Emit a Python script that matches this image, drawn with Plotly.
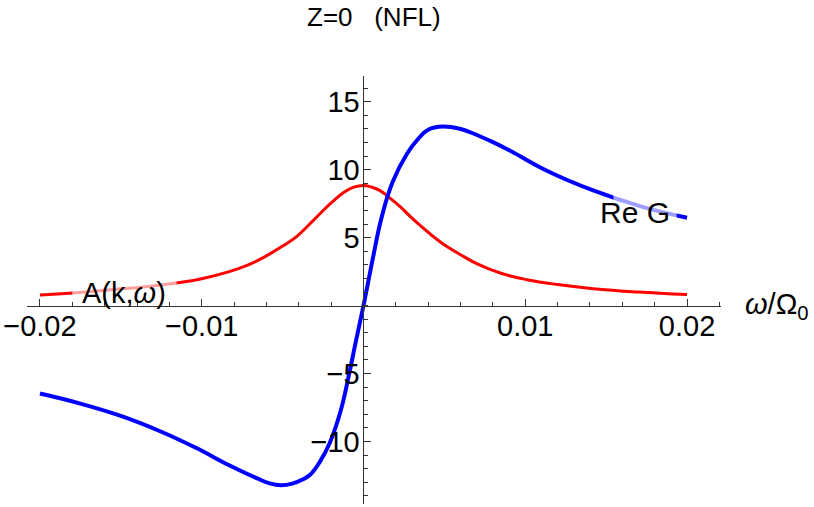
import plotly.graph_objects as go

# Spectral function A(k, omega) (red)
a_omega = [-0.0200, -0.0180, -0.0155, -0.0130, -0.0116, -0.0100, -0.0083, -0.0072,
           -0.0062, -0.0050, -0.0041, -0.0031, -0.0021, -0.0012, -0.0006, 0.0,
           0.0005, 0.0010, 0.0016, 0.0023, 0.0029, 0.0035, 0.0042, 0.0049, 0.0060,
           0.0070, 0.0085, 0.0101, 0.0120, 0.0142, 0.0170, 0.0200]
a_vals = [0.78, 0.93, 1.18, 1.45, 1.66, 1.98, 2.50, 2.96,
          3.53, 4.38, 5.12, 6.27, 7.45, 8.35, 8.72, 8.85,
          8.72, 8.48, 7.95, 7.25, 6.55, 5.90, 5.20, 4.56, 3.75,
          3.09, 2.38, 1.91, 1.55, 1.25, 1.00, 0.81]

# Re G (blue)
g_omega = [-0.0200, -0.0175, -0.0150, -0.0125, -0.0103, -0.0083, -0.0066, -0.0058,
           -0.0051, -0.0044, -0.0038, -0.0033, -0.0027, -0.0021, -0.0014, -0.0009,
           -0.0005, 0.0, 0.0003, 0.0006, 0.0011, 0.0018, 0.0027, 0.0034, 0.0040,
           0.0049, 0.0060, 0.0066, 0.0080, 0.0091, 0.0113, 0.0142, 0.0173, 0.0200]
g_vals = [-6.47, -7.21, -8.12, -9.28, -10.50, -11.75, -12.70, -13.08,
          -13.22, -13.10, -12.82, -12.45, -11.50, -10.15, -7.70, -5.10,
          -2.80, 0.0, 1.80, 3.60, 6.40, 9.10, 11.20, 12.30, 12.95,
          13.18, 13.00, 12.76, 12.03, 11.38, 9.95, 8.48, 7.25, 6.47]

x_tickvals = [-0.02, -0.01, 0.01, 0.02]
x_ticktext = ["\u22120.02", "\u22120.01", "0.01", "0.02"]
y_tickvals = [-10, -5, 5, 10, 15]
y_ticktext = ["\u221210", "\u22125", "5", "10", "15"]

X_RANGE = [-0.0208, 0.0221]
Y_RANGE = [-14.6, 16.9]

FONT = "Liberation Sans, Arial, Helvetica, sans-serif"
FS = 29

fig = go.Figure()
fig.add_trace(go.Scatter(x=a_omega, y=a_vals, mode="lines",
                         line=dict(color="rgb(255,0,0)", width=3, shape="spline", smoothing=1.2),
                         showlegend=False, hoverinfo="skip"))
fig.add_trace(go.Scatter(x=g_omega, y=g_vals, mode="lines",
                         line=dict(color="rgb(0,0,255)", width=4, shape="spline", smoothing=1.2),
                         showlegend=False, hoverinfo="skip"))

# semi-transparent label backgrounds (lighten curves behind the labels)
fig.add_shape(type="rect", xref="x", yref="y", x0=-0.0180, x1=-0.01155, y0=0.55, y1=2.3,
              fillcolor="rgba(255,255,255,0.62)", line=dict(width=0), layer="above")
fig.add_shape(type="rect", xref="x", yref="y", x0=0.01545, x1=0.01936, y0=5.6, y1=8.8,
              fillcolor="rgba(255,255,255,0.62)", line=dict(width=0), layer="above")

ypos = (0 - Y_RANGE[0]) / (Y_RANGE[1] - Y_RANGE[0])
xpos = (0 - X_RANGE[0]) / (X_RANGE[1] - X_RANGE[0])

fig.update_layout(
    width=814, height=507,
    margin=dict(l=27, r=93, t=76, b=3, autoexpand=False),
    plot_bgcolor="white", paper_bgcolor="white",
    font=dict(family=FONT, size=FS, color="black"),
    xaxis=dict(range=X_RANGE, anchor="free", position=ypos, showgrid=False, zeroline=False,
               showline=True, linecolor="#333", linewidth=1,
               tickmode="array", tickvals=x_tickvals, ticktext=x_ticktext,
               ticks="inside", ticklen=7, tickcolor="#333", tickwidth=1,
               minor=dict(dtick=0.002, tick0=0, ticks="inside", ticklen=4, tickcolor="#333", showgrid=False),
               tickfont=dict(size=FS, family=FONT), side="bottom", ticklabelstandoff=-5),
    yaxis=dict(range=Y_RANGE, anchor="free", position=xpos, showgrid=False, zeroline=False,
               showline=True, linecolor="#333", linewidth=1,
               tickmode="array", tickvals=y_tickvals, ticktext=y_ticktext,
               ticks="inside", ticklen=7, tickcolor="#333", tickwidth=1,
               minor=dict(dtick=1, tick0=0, ticks="inside", ticklen=4, tickcolor="#333", showgrid=False),
               tickfont=dict(size=FS, family=FONT), side="left", ticklabelstandoff=-2),
    showlegend=False,
)

fig.add_annotation(text="Z=0\u00a0\u00a0\u00a0(NFL)", xref="paper", yref="paper", x=(373.5 - 27) / 694, y=1,
                   yshift=59, xanchor="center", yanchor="middle", showarrow=False,
                   font=dict(size=26, family=FONT, color="black"))
fig.add_annotation(text="<i>ω</i>/Ω<sub>0</sub>", xref="paper", yref="y", x=1.0317, y=0,
                   xanchor="left", yanchor="middle", showarrow=False,
                   font=dict(size=FS, family=FONT, color="black"))
fig.add_annotation(text="A(k,<i>ω</i>)", xref="x", yref="y", x=-0.0148, y=0.9,
                   xanchor="center", yanchor="middle", showarrow=False,
                   font=dict(size=FS, family=FONT, color="black"))
fig.add_annotation(text="Re G", xref="x", yref="y", x=0.0168, y=6.85,
                   xanchor="center", yanchor="middle", showarrow=False,
                   font=dict(size=30, family=FONT, color="black"))

fig.write_html("out.html", config={"displayModeBar": False},
               post_script="document.body.style.margin='0';document.body.style.overflow='hidden';")
